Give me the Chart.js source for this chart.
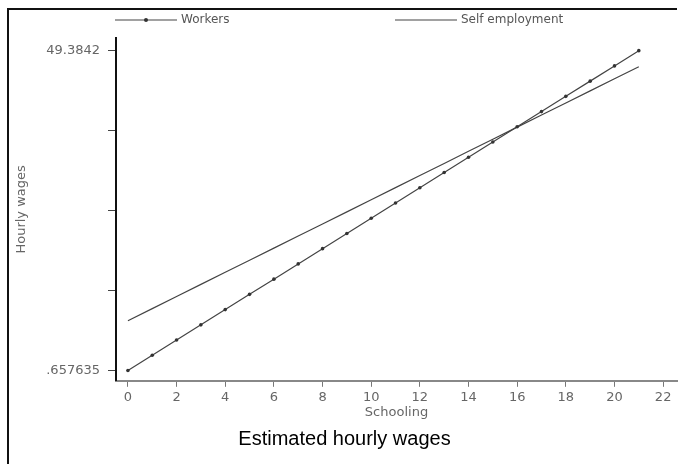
<!DOCTYPE html>
<html>
<head>
<meta charset="utf-8">
<title>Estimated hourly wages</title>
<script src="https://cdn.jsdelivr.net/npm/chart.js@4.4.1/dist/chart.umd.min.js"></script>
<style>
    html, body { margin: 0; padding: 0; background: #fff; }
    #wrap { position: relative; width: 685px; height: 464px; overflow: hidden; }
    #frame { position: absolute; left: 7px; top: 8px; width: 668px; height: 480px;
             border-left: 2px solid #111; border-top: 2px solid #111; }
    #chart { position: absolute; left: 0; top: 0; }
</style>
</head>
<body>
<div id="wrap">
    <div id="frame"></div>
    <canvas id="chart" width="685" height="464"></canvas>
</div>
<script>
// Data
const schooling = [0, 1, 2, 3, 4, 5, 6, 7, 8, 9, 10, 11, 12, 13, 14, 15, 16, 17, 18, 19, 20, 21];
const workers = [0.658, 2.98, 5.30, 7.62, 9.94, 12.26, 14.58, 16.90, 19.22, 21.54, 23.86,
                 26.18, 28.50, 30.82, 33.14, 35.46, 37.78, 40.10, 42.42, 44.74, 47.06, 49.384];
const selfEmployment = [8.25, 10.09, 11.93, 13.78, 15.62, 17.46, 19.30, 21.15, 22.99, 24.83, 26.68,
                        28.52, 30.36, 32.20, 34.05, 35.89, 37.73, 39.58, 41.42, 43.26, 45.10, 46.94];
const yTicks = [0.657635, 12.839277, 25.020918, 37.202559, 49.3842];
const xTicks = [0, 2, 4, 6, 8, 10, 12, 14, 16, 18, 20, 22];

// legend swatch start positions (px)
const legendX = [115, 395];

const smallFont = { family: '"DejaVu Sans", sans-serif', size: 13 };

// Legend drawn above the plot, items spread apart like the original
const topLegend = {
    id: 'topLegend',
    afterDraw(chart) {
        const ctx = chart.ctx;
        const y = 20;
        chart.data.datasets.forEach((ds, i) => {
            const x = legendX[i];
            ctx.save();
            ctx.strokeStyle = ds.borderColor;
            ctx.lineWidth = ds.borderWidth;
            ctx.beginPath();
            ctx.moveTo(x, y);
            ctx.lineTo(x + 62, y);
            ctx.stroke();
            if (ds.pointRadius > 0) {
                ctx.fillStyle = ds.pointBackgroundColor;
                ctx.beginPath();
                ctx.arc(x + 31, y, 2, 0, Math.PI * 2);
                ctx.fill();
            }
            ctx.fillStyle = '#555';
            ctx.font = '12px "DejaVu Sans", sans-serif';
            ctx.textBaseline = 'middle';
            ctx.fillText(ds.label, x + 66, y);
            ctx.restore();
        });
    }
};

new Chart(document.getElementById('chart'), {
    type: 'line',
    data: {
        labels: schooling,
        datasets: [{
            label: 'Workers',
            data: schooling.map((s, i) => ({ x: s, y: workers[i] })),
            borderColor: '#444',
            borderWidth: 1.2,
            pointRadius: 1.8,
            pointBackgroundColor: '#333',
            pointBorderWidth: 0,
            tension: 0
        }, {
            label: 'Self employment',
            data: schooling.map((s, i) => ({ x: s, y: selfEmployment[i] })),
            borderColor: '#444',
            borderWidth: 1.2,
            pointRadius: 0,
            tension: 0
        }]
    },
    options: {
        responsive: false,
        animation: false,
        layout: { padding: { left: 12, right: 8, top: 38, bottom: 12.6 } },
        plugins: {
            legend: { display: false },
            tooltip: { enabled: false },
            title: {
                display: true,
                position: 'bottom',
                text: 'Estimated hourly wages',
                color: '#000',
                font: { family: '"Liberation Sans", Arial, sans-serif', size: 20, weight: 'normal' },
                padding: { top: 6.6, bottom: 0 }
            }
        },
        scales: {
            x: {
                type: 'linear',
                min: -0.49,
                max: 22.57,
                afterBuildTicks: s => { s.ticks = xTicks.map(v => ({ value: v })); },
                afterFit: s => { s.height = 40; },
                grid: { drawOnChartArea: false, tickLength: 6, color: '#777' },
                border: { color: '#888', width: 2 },
                ticks: { color: '#666', font: smallFont, padding: 3, maxRotation: 0 },
                title: { display: true, text: 'Schooling', color: '#666', font: smallFont,
                         padding: { top: 0, bottom: 0 } }
            },
            y: {
                min: -0.906,
                max: 51.31,
                afterBuildTicks: s => { s.ticks = yTicks.map(v => ({ value: v })); },
                afterFit: s => { s.width = 104; },
                grid: { drawOnChartArea: false, tickLength: 8, color: '#444' },
                border: { color: '#111', width: 2 },
                ticks: {
                    color: '#666',
                    font: smallFont,
                    padding: 8,
                    callback: (v, i, arr) => {
                        if (i !== 0 && i !== arr.length - 1) return '';
                        return String(v).replace(/^0\./, '.');
                    }
                },
                title: { display: true, text: 'Hourly wages', color: '#666', font: smallFont,
                         padding: { top: 1.4, bottom: 0 } }
            }
        }
    },
    plugins: [topLegend]
});
</script>
</body>
</html>
